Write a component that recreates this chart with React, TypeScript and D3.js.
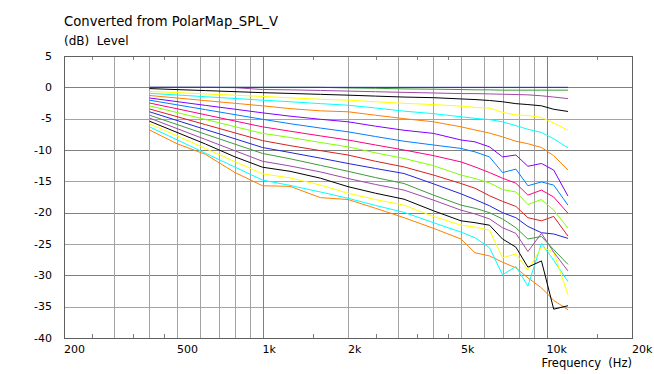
import * as d3 from 'd3';

// frequency points (Hz) shared by every curve
const FREQS = [400, 500, 630, 800, 1000, 1250, 1600, 2000, 2500, 3150, 4000, 5000, 5600, 6300, 7000, 7800, 8600, 9600, 10600, 11900];

// level (dB), top curve first
const deg00 = [0, 0, 0, 0, 0, 0, 0, 0, 0, 0, 0, 0, 0, 0, 0, 0, 0, 0, 0, 0];
const deg05 = [0, 0, 0, 0, 0, 0, 0, -0.1, -0.15, -0.25, -0.3, -0.35, -0.4, -0.4, -0.45, -0.45, -0.45, -0.45, -0.45, -0.45];
const deg10 = [0, 0, 0, -0.05, -0.35, -0.4, -0.5, -0.6, -0.7, -0.8, -0.9, -1.0, -1.0, -1.05, -1.1, -1.15, -1.2, -1.35, -1.55, -1.8];
const deg15 = [-0.2, -0.36, -0.52, -0.69, -0.85, -0.97, -1.12, -1.25, -1.4, -1.55, -1.65, -1.85, -1.95, -2.1, -2.3, -2.6, -2.75, -2.95, -3.5, -3.85];
const deg20 = [-0.65, -0.84, -1.05, -1.26, -1.45, -1.67, -1.9, -2.05, -2.3, -2.55, -2.75, -3.0, -3.2, -3.3, -4.0, -4.4, -4.5, -4.8, -5.7, -6.85];
const deg25 = [-0.95, -1.22, -1.5, -1.78, -2.05, -2.3, -2.6, -2.85, -3.3, -3.8, -4.2, -4.7, -4.95, -5.15, -5.5, -6.1, -6.7, -7.2, -8.2, -9.65];
const deg30 = [-1.3, -1.7, -2.12, -2.55, -2.95, -3.4, -3.75, -3.9, -4.45, -5.0, -5.5, -6.3, -6.8, -7.3, -7.9, -8.6, -9.0, -9.6, -10.9, -13.2];
const deg35 = [-1.7, -2.28, -2.88, -3.49, -4.07, -4.6, -5.1, -5.5, -6.2, -6.85, -7.35, -8.4, -8.7, -9.5, -11.1, -10.8, -12.6, -12.15, -13.2, -17.35];
const deg40 = [-2.05, -2.79, -3.56, -4.36, -5.1, -5.8, -6.5, -7.1, -7.85, -8.6, -9.2, -9.75, -10.3, -11.1, -13.6, -13.05, -15.7, -15.1, -15.6, -18.8];
const deg45 = [-2.5, -3.42, -4.38, -5.38, -6.3, -7.0, -7.75, -8.4, -9.2, -10.0, -10.9, -11.9, -12.7, -13.6, -14.5, -15.3, -17.2, -16.4, -17.5, -20.1];
const deg50 = [-2.95, -4.02, -5.13, -6.28, -7.35, -8.0, -8.8, -9.5, -10.45, -11.35, -12.5, -14.0, -14.55, -15.25, -16.3, -16.7, -18.7, -17.9, -19.6, -22.45];
const deg55 = [-3.45, -4.68, -5.95, -7.27, -8.5, -9.3, -10.1, -10.8, -11.8, -12.7, -14.0, -15.35, -16.1, -17.3, -18.2, -19.0, -20.8, -21.3, -20.6, -23.75];
const deg60 = [-3.9, -5.29, -6.73, -8.21, -9.6, -10.4, -11.3, -12.15, -12.95, -13.75, -15.4, -17.0, -17.9, -18.9, -20.0, -20.8, -22.2, -23.2, -23.4, -24.1];
const deg65 = [-4.45, -5.93, -7.48, -9.07, -10.55, -11.4, -12.45, -13.4, -14.4, -15.35, -17.2, -18.8, -19.3, -20.0, -21.0, -22.4, -24.2, -23.8, -25.9, -28.25];
const deg70 = [-4.9, -6.58, -8.32, -10.12, -11.8, -12.55, -13.5, -14.55, -15.5, -16.4, -18.0, -19.6, -20.2, -21.0, -22.4, -23.3, -26.2, -23.3, -26.3, -29.3];
const deg75 = [-5.4, -7.19, -9.05, -11.1, -12.75, -13.4, -14.5, -15.85, -16.9, -17.85, -19.7, -21.3, -21.6, -22.0, -24.2, -25.5, -28.7, -27.7, -35.4, -34.85];
const deg80 = [-5.8, -7.74, -9.77, -11.86, -13.8, -14.45, -15.6, -16.9, -17.9, -18.8, -20.6, -22.0, -22.3, -22.8, -27.2, -26.6, -29.2, -25.5, -26.3, -33.1];
const deg85 = [-6.3, -8.37, -10.52, -12.73, -14.8, -15.65, -16.7, -17.7, -18.85, -19.95, -21.6, -23.1, -24.0, -25.6, -29.9, -28.6, -31.7, -24.9, -27.6, -31.0];
const deg90 = [-6.8, -9.0, -10.7, -13.6, -15.7, -15.8, -17.6, -17.9, -19.3, -20.8, -22.5, -24.2, -26.4, -26.9, -27.9, -28.8, -30.4, -32.0, -34.0, -35.5];

const CURVES = [deg00, deg05, deg10, deg15, deg20, deg25, deg30, deg35, deg40, deg45, deg50, deg55, deg60, deg65, deg70, deg75, deg80, deg85, deg90];
const COLORS = [
  '#2424d8', '#3c9c3c', '#a048a8', '#000000', '#ffff00', '#00ffff', '#ff8000',
  '#8000ff', '#0080ff', '#ff0080', '#80ff00', '#d82020', '#2424d8', '#3c9c3c',
  '#a048a8', '#000000', '#ffff00', '#00ffff', '#ff8000',
];

const Y_TICKS = [5, 0, -5, -10, -15, -20, -25, -30, -35, -40];
const X_LABELS = ['200', '500', '1k', '2k', '5k', '10k', '20k'];
const X_LABEL_FREQS = [200, 500, 1000, 2000, 5000, 10000, 20000];
const X_GRID_MINOR = [300, 400, 500, 600, 700, 800, 900, 2000, 3000, 4000, 5000, 6000, 7000, 8000, 9000];
const X_GRID_MAJOR = [1000, 10000];
const X_SHORT_TICKS = [250, 350, 450, 1500, 2500, 3500, 4500, 15000];

const W = 654;
const H = 374;
const PLOT = { left: 64, right: 632, top: 56, bottom: 338 };
const FONT = 'DejaVu Sans, Verdana, sans-serif';

export default function App() {
  const x = d3.scaleLog().domain([200, 20000]).range([PLOT.left, PLOT.right]);
  const y = d3.scaleLinear().domain([-40, 5]).range([PLOT.bottom, PLOT.top]);

  const line = d3.line<number>()
    .x((_, i) => x(FREQS[i]))
    .y((d) => y(d));

  // bottom curve first so the 0 dB line ends up on top
  const drawOrder = CURVES.map((c, i) => i).reverse();
  const px = (v: number) => Math.round(v) + 0.5;

  return (
    <>
      <style>{'body{margin:0;background:#fff}'}</style>
      <svg width={W} height={H} style={{ display: 'block', background: '#fff' }}>
        <text x={64} y={26} fontSize={13.2} fontFamily={FONT} fill="#000">
          Converted from PolarMap_SPL_V
        </text>
        <text x={64} y={45} fontSize={12} fontFamily={FONT} fill="#000" xmlSpace="preserve">
          (dB)  Level
        </text>

        {/* horizontal grid */}
        {Y_TICKS.map((v) => (
          <line
            key={'h' + v}
            x1={PLOT.left} x2={PLOT.right}
            y1={px(y(v))} y2={px(y(v))}
            stroke={v % 10 === 0 ? '#808080' : '#a4a4a4'}
            strokeWidth={1}
          />
        ))}

        {/* vertical grid */}
        {X_GRID_MINOR.map((f) => (
          <line
            key={'vm' + f}
            x1={px(x(f))} x2={px(x(f))}
            y1={PLOT.top} y2={PLOT.bottom}
            stroke="#a4a4a4"
          />
        ))}
        {X_GRID_MAJOR.map((f) => (
          <line
            key={'vM' + f}
            x1={px(x(f))} x2={px(x(f))}
            y1={PLOT.top} y2={PLOT.bottom}
            stroke="#808080"
          />
        ))}
        {X_SHORT_TICKS.map((f) => (
          <g key={'t' + f} stroke="#808080">
            <line x1={px(x(f))} x2={px(x(f))} y1={PLOT.top} y2={PLOT.top + 4} />
            <line x1={px(x(f))} x2={px(x(f))} y1={PLOT.bottom - 4} y2={PLOT.bottom} />
          </g>
        ))}

        {/* curves */}
        {drawOrder.map((i) => (
          <path
            key={'c' + i}
            d={line(CURVES[i]) ?? ''}
            fill="none"
            stroke={COLORS[i]}
            strokeWidth={1}
            strokeLinejoin="round"
          />
        ))}

        {/* frame */}
        <rect
          x={PLOT.left + 0.5} y={PLOT.top + 0.5}
          width={PLOT.right - PLOT.left} height={PLOT.bottom - PLOT.top}
          fill="none" stroke="#606060"
        />

        {/* y labels */}
        {Y_TICKS.map((v) => (
          <text
            key={'yl' + v}
            x={52} y={y(v)}
            textAnchor="end" dominantBaseline="central"
            fontSize={11} fontFamily={FONT} fill="#000"
          >
            {v}
          </text>
        ))}

        {/* x labels */}
        {X_LABELS.map((lab, i) => (
          <text
            key={'xl' + lab}
            x={x(X_LABEL_FREQS[i])} y={353}
            fontSize={11} fontFamily={FONT} fill="#000"
          >
            {lab}
          </text>
        ))}
        <text
          x={PLOT.right} y={367}
          textAnchor="end" fontSize={11.5} fontFamily={FONT} fill="#000" xmlSpace="preserve"
        >
          Frequency  (Hz)
        </text>
      </svg>
    </>
  );
}
